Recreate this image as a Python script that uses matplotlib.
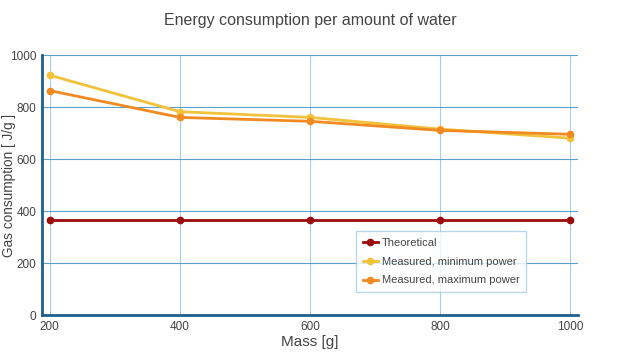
import matplotlib
matplotlib.use("Agg")
import matplotlib.pyplot as plt

plt.rcParams['font.family'] = ['Liberation Sans', 'DejaVu Sans']

mass = [200, 400, 600, 800, 1000]
theoretical = [365, 365, 365, 365, 365]
measured_min = [922, 782, 760, 715, 680]
measured_max = [863, 760, 745, 710, 695]

fig = plt.figure(figsize=(6.2, 3.58), dpi=100)
ax = fig.add_axes([42 / 620, 43 / 358, 536 / 620, 260 / 358])

ax.plot(mass, theoretical, color='#9b0b0b', lw=2, marker='o', ms=4.5, label='Theoretical')
ax.plot(mass, measured_min, color='#f2c23a', lw=2, marker='o', ms=4.5, label='Measured, minimum power')
ax.plot(mass, measured_max, color='#f28a22', lw=2, marker='o', ms=4.5, label='Measured, maximum power')

ax.set_xlim(188, 1012)
ax.set_ylim(0, 1000)
ax.set_xticks(mass)
ax.set_yticks([0, 200, 400, 600, 800, 1000])
ax.grid(axis='y', color='#5aa0c8', lw=0.8)
ax.grid(axis='x', color='#a8cde0', lw=0.8)
ax.set_axisbelow(True)
for s in ['top', 'right']:
    ax.spines[s].set_visible(False)
for s in ['left', 'bottom']:
    ax.spines[s].set_color('#1f5f8f')
    ax.spines[s].set_linewidth(2)
ax.tick_params(length=0, labelsize=8.5, colors='#444444', pad=4)

ax.set_xlabel('Mass [g]', fontsize=11, color='#444444', labelpad=2)
ax.set_ylabel('Gas consumption [ J/g ]', fontsize=9.8, color='#444444')
ax.yaxis.set_label_coords(-26 / 536, 0.5)
fig.suptitle('Energy consumption per amount of water', y=0.965, fontsize=11.5, color='#444444')

leg = ax.legend(loc='upper left', bbox_to_anchor=(314 / 536, 84 / 260), fontsize=8,
                frameon=True, fancybox=False, handlelength=1.4, borderpad=0.6,
                labelspacing=0.8, handletextpad=0.3, borderaxespad=0)
leg.get_frame().set_edgecolor('#a8cde0')
leg.get_frame().set_linewidth(1)
for t in leg.get_texts():
    t.set_color('#444444')

fig.savefig('out.png', dpi=100)
